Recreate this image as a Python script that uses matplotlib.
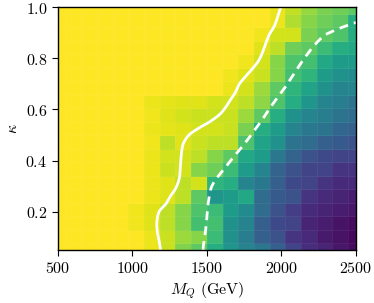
import numpy as np
import matplotlib
matplotlib.use("Agg")
import matplotlib.pyplot as plt
from matplotlib.ticker import FuncFormatter

plt.rcParams['mathtext.fontset'] = 'cm'
plt.rcParams['font.family'] = 'serif'
plt.rcParams['font.serif'] = ['DejaVu Serif']

# grid
M_vals = np.linspace(500, 2500, 20)
kappa_vals = np.linspace(0.05, 1.0, 19)

# rows from kappa=0.05 (j=0) to kappa=1.0 (j=18); columns k=0..19
Z_rows = [
    [1, 1, 1, 1, 1, 1, 0.97, 0.92, 0.81, 0.75, 0.62, 0.52, 0.45, 0.40, 0.30, 0.20, 0.13, 0.10, 0.06, 0.03],
    [1, 1, 1, 1, 1, 1, 0.97, 0.92, 0.85, 0.82, 0.68, 0.50, 0.42, 0.30, 0.25, 0.15, 0.12, 0.07, 0.05, 0.02],
    [1, 1, 1, 1, 1, 0.98, 0.95, 0.90, 0.82, 0.70, 0.70, 0.50, 0.45, 0.30, 0.22, 0.20, 0.10, 0.08, 0.05, 0.03],
    [1, 1, 1, 1, 1, 0.98, 0.95, 0.90, 0.82, 0.72, 0.68, 0.55, 0.48, 0.35, 0.25, 0.18, 0.12, 0.10, 0.08, 0.06],
    [1, 1, 1, 1, 1, 1, 0.97, 0.95, 0.90, 0.75, 0.52, 0.55, 0.60, 0.35, 0.28, 0.25, 0.15, 0.12, 0.10, 0.08],
    [1, 1, 1, 1, 1, 1, 0.97, 0.95, 0.90, 0.93, 0.65, 0.62, 0.45, 0.40, 0.30, 0.22, 0.20, 0.15, 0.12, 0.12],
    [1, 1, 1, 1, 1, 1, 0.97, 0.92, 0.93, 0.82, 0.78, 0.68, 0.55, 0.45, 0.32, 0.25, 0.20, 0.20, 0.15, 0.15],
    [1, 1, 1, 1, 1, 1, 0.97, 0.93, 0.93, 0.90, 0.82, 0.75, 0.60, 0.55, 0.40, 0.32, 0.25, 0.22, 0.20, 0.20],
    [1, 1, 1, 1, 1, 1, 0.98, 0.90, 0.95, 0.92, 0.90, 0.90, 0.72, 0.58, 0.50, 0.38, 0.35, 0.30, 0.28, 0.25],
    [1, 1, 1, 1, 1, 1, 0.97, 0.96, 0.95, 0.93, 0.93, 0.92, 0.80, 0.62, 0.55, 0.45, 0.40, 0.38, 0.33, 0.30],
    [1, 1, 1, 1, 1, 1, 0.98, 0.95, 0.93, 0.92, 0.92, 0.92, 0.85, 0.75, 0.62, 0.50, 0.45, 0.42, 0.38, 0.35],
    [1, 1, 1, 1, 1, 1, 0.97, 0.96, 0.95, 0.95, 0.93, 0.93, 0.90, 0.83, 0.72, 0.62, 0.52, 0.45, 0.42, 0.38],
    [1, 1, 1, 1, 1, 1, 1, 1, 1, 1, 1, 0.97, 0.93, 0.85, 0.75, 0.65, 0.58, 0.50, 0.45, 0.45],
    [1, 1, 1, 1, 1, 1, 1, 1, 1, 1, 1, 0.98, 0.95, 0.92, 0.82, 0.70, 0.65, 0.55, 0.50, 0.48],
    [1, 1, 1, 1, 1, 1, 1, 1, 1, 1, 1, 1, 0.98, 0.93, 0.82, 0.72, 0.70, 0.60, 0.55, 0.55],
    [1, 1, 1, 1, 1, 1, 1, 1, 1, 1, 1, 1, 1, 0.95, 0.90, 0.78, 0.75, 0.68, 0.62, 0.60],
    [1, 1, 1, 1, 1, 1, 1, 1, 1, 1, 1, 1, 1, 0.98, 0.93, 0.93, 0.80, 0.75, 0.72, 0.62],
    [1, 1, 1, 1, 1, 1, 1, 1, 1, 1, 1, 1, 1, 1, 0.97, 0.88, 0.82, 0.78, 0.75, 0.62],
    [1, 1, 1, 1, 1, 1, 1, 1, 1, 1, 1, 1, 1, 1, 0.97, 0.91, 0.84, 0.80, 0.78, 0.75],
]

# solid contour
solid_kappa = [0.05, 0.08, 0.12, 0.16, 0.20, 0.23, 0.26, 0.285, 0.31, 0.34, 0.39, 0.44, 0.47,
               0.50, 0.525, 0.55, 0.58, 0.61, 0.635, 0.663, 0.703, 0.748, 0.80, 0.885, 0.931, 1.0]
solid_M = [1190, 1182, 1168, 1165, 1180, 1225, 1255, 1285, 1305, 1318, 1324, 1332, 1345,
           1380, 1440, 1515, 1585, 1628, 1655, 1688, 1722, 1789, 1856, 1912, 1956, 1995]

# dashed contour
dashed_kappa = [0.05, 0.063, 0.12, 0.168, 0.20, 0.233, 0.265, 0.298, 0.33, 0.363, 0.40, 0.429,
                0.46, 0.494, 0.52, 0.559, 0.59, 0.624, 0.676, 0.735, 0.794, 0.846, 0.875,
                0.892, 0.918, 0.937, 0.94]
dashed_M = [1475, 1476, 1490, 1499, 1503, 1509, 1518, 1532, 1565, 1610, 1660, 1700,
            1745, 1789, 1822, 1870, 1905, 1945, 2012, 2079, 2146, 2213, 2260,
            2292, 2392, 2481, 2500]

x_ticks = [500, 1000, 1500, 2000, 2500]
y_ticks = [0.2, 0.4, 0.6, 0.8, 1.0]


def smooth(xs, ys, n=12):
    """Catmull-Rom rendering of a polyline through the given points."""
    x = np.asarray(xs, float) / 2000.0
    y = np.asarray(ys, float)
    P = np.column_stack([x, y])
    P = np.vstack([2 * P[0] - P[1], P, 2 * P[-1] - P[-2]])
    out = []
    t = np.linspace(0, 1, n, endpoint=False)[:, None]
    for i in range(1, len(P) - 2):
        p0, p1, p2, p3 = P[i - 1], P[i], P[i + 1], P[i + 2]
        seg = 0.5 * ((2 * p1) + (-p0 + p2) * t + (2 * p0 - 5 * p1 + 4 * p2 - p3) * t ** 2
                     + (-p0 + 3 * p1 - 3 * p2 + p3) * t ** 3)
        out.append(seg)
    out.append(P[-2][None, :])
    out = np.vstack(out)
    return out[:, 0] * 2000.0, out[:, 1]


Z = np.array(Z_rows)

fig = plt.figure(figsize=(3.74, 3.03), dpi=100)
ax = fig.add_axes([0.1543, 0.175, 0.7975, 0.801])
ax.pcolormesh(M_vals, kappa_vals, Z, cmap='viridis', vmin=0, vmax=1,
              shading='nearest', edgecolors=(1, 1, 1, 0.06), linewidth=0.5)
sx, sy = smooth(solid_M, solid_kappa)
ax.plot(sx, sy, color='white', lw=2.0, solid_capstyle='butt')
dx, dy = smooth(dashed_M, dashed_kappa)
ax.plot(dx, dy, color='white', lw=2.0, dashes=(3.2, 2.2))

ax.set_xlim(500, 2500)
ax.set_ylim(0.05, 1.0)
ax.set_xticks(x_ticks)
ax.set_yticks(y_ticks)
ax.xaxis.set_major_formatter(FuncFormatter(lambda v, p: r'$%d$' % v))
ax.yaxis.set_major_formatter(FuncFormatter(lambda v, p: r'$%.1f$' % v))
ax.tick_params(labelsize=11.5, direction='out', length=4, width=0.8)
ax.set_xlabel(r'$M_Q\ (\mathrm{GeV})$', fontsize=11.5, labelpad=2)
ax.set_ylabel(r'$\kappa$', fontsize=11.5, labelpad=3)
for s in ax.spines.values():
    s.set_linewidth(1.0)

fig.savefig('out.png', dpi=100)
